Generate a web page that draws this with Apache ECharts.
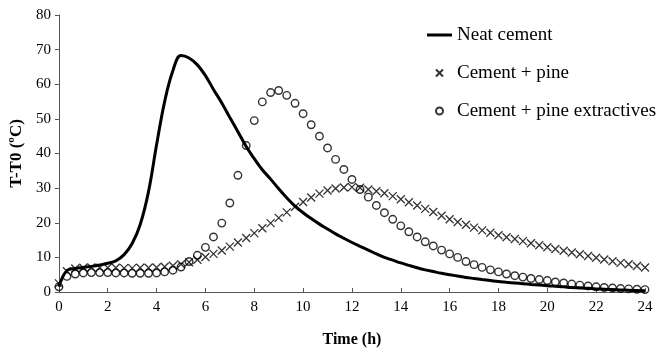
<!DOCTYPE html>
<html><head><meta charset="utf-8">
<script src="https://cdn.jsdelivr.net/npm/echarts@6/dist/echarts.min.js"></script>
<style>html,body{margin:0;padding:0;background:#fff}#c{width:659px;height:353px}</style>
</head><body><div id="c"></div>
<script>
const timeH = [0,0.33,0.67,1,1.33,1.67,2,2.33,2.67,3,3.33,3.67,4,4.33,4.67,5,5.33,5.67,6,6.33,6.67,7,7.33,7.67,8,8.33,8.67,9,9.33,9.67,10,10.33,10.67,11,11.33,11.67,12,12.33,12.67,13,13.33,13.67,14,14.33,14.67,15,15.33,15.67,16,16.33,16.67,17,17.33,17.67,18,18.33,18.67,19,19.33,19.67,20,20.33,20.67,21,21.33,21.67,22,22.33,22.67,23,23.33,23.67,24];
const neatCement = [1.5,6.2,6.8,7.1,7.4,7.8,8.3,9.0,10.8,14.0,19.5,29,42.5,55,64,68.3,67.6,65.6,62.5,58.5,54.6,50.4,46.3,42.0,38.5,35.3,32.6,29.8,27.2,24.8,22.9,21.2,19.6,18.2,16.8,15.5,14.3,13.2,12.1,11.0,10.0,9.2,8.4,7.7,7.0,6.4,5.9,5.4,5.0,4.6,4.2,3.9,3.6,3.3,3.0,2.8,2.6,2.4,2.2,2.0,1.8,1.65,1.5,1.3,1.2,1.05,0.9,0.8,0.7,0.6,0.5,0.4,0.35];
const cementPine = [2.5,6.0,6.8,7.0,7.1,7.0,7.0,7.0,6.9,6.9,7.0,7.0,7.1,7.3,7.6,8.0,8.6,9.3,10.1,11.0,12.0,13.1,14.3,15.6,17.0,18.4,19.9,21.4,23.0,24.6,26.0,27.3,28.4,29.3,29.9,30.2,30.3,30.1,29.6,29.1,28.5,27.7,26.8,25.9,25.0,24.0,23.1,22.0,21.0,20.2,19.4,18.6,17.8,17.1,16.4,15.8,15.3,14.7,14.1,13.5,12.9,12.4,11.9,11.4,10.9,10.4,9.9,9.4,8.9,8.4,8.0,7.5,7.1];
const cementPineExtractives = [1.5,4.5,5.2,5.5,5.6,5.6,5.6,5.5,5.5,5.4,5.4,5.4,5.5,5.8,6.3,7.2,8.8,10.6,12.9,15.9,19.9,25.7,33.7,42.3,49.5,54.9,57.6,58.2,56.8,54.5,51.5,48.3,45.0,41.6,38.3,35.4,32.5,29.6,27.4,25.0,22.9,21.0,19.1,17.4,15.9,14.5,13.3,12.1,11.0,10.0,8.8,7.9,7.1,6.4,5.8,5.2,4.7,4.3,3.9,3.6,3.3,2.9,2.6,2.3,2.0,1.75,1.5,1.3,1.15,1.0,0.9,0.8,0.7];
const seriesNames = ['Neat cement','Cement + pine','Cement + pine extractives'];
const xTitle = 'Time (h)';
const yTitle = 'T-T0 (ºC)';

const pair = arr => timeH.map((t,i)=>[t,arr[i]]);
const FONT = "'Liberation Serif','Times New Roman',serif";
const chart = echarts.init(document.getElementById('c'), null, {renderer:'canvas'});
chart.setOption({
  backgroundColor:'#fff',
  animation:false,
  textStyle:{fontFamily:FONT,color:'#000'},
  grid:{left:52,right:14,top:15,bottom:60},
  legend:{
    orient:'vertical', left:422, top:20,
    itemWidth:25, itemHeight:7, itemGap:18,
    textStyle:{fontFamily:FONT,fontSize:19,color:'#000',lineHeight:20},
    data:[
      {name:seriesNames[0], icon:'path://M0,0H25V3H0Z', itemStyle:{color:'#000'}},
      {name:seriesNames[1]},
      {name:seriesNames[2]}
    ]
  },
  xAxis:{
    type:'value', min:0, max:24, interval:2,
    name:xTitle, nameLocation:'middle', nameGap:40,
    nameTextStyle:{fontFamily:FONT,fontWeight:'bold',fontSize:16,color:'#000'},
    axisLine:{lineStyle:{color:'#555',width:1}},
    axisTick:{inside:true,length:4,lineStyle:{color:'#555'}},
    axisLabel:{fontFamily:FONT,fontSize:15,color:'#000',margin:8},
    splitLine:{show:false}
  },
  yAxis:{
    type:'value', min:0, max:80, interval:10,
    name:yTitle, nameLocation:'middle', nameGap:33, nameRotate:90,
    nameTextStyle:{fontFamily:FONT,fontWeight:'bold',fontSize:17,color:'#000'},
    axisLine:{show:true,lineStyle:{color:'#555',width:1}},
    axisTick:{show:true,length:4,lineStyle:{color:'#555'}},
    axisLabel:{fontFamily:FONT,fontSize:15,color:'#000',margin:8},
    splitLine:{show:false}
  },
  series:[
    {name:seriesNames[0], type:'line', data:pair(neatCement), smooth:0.4, symbol:'none', showSymbol:false,
     lineStyle:{color:'#000',width:3}, itemStyle:{color:'#000'}, z:3},
    {name:seriesNames[1], type:'scatter', data:pair(cementPine),
     symbol:'path://M0,0L10,10M10,0L0,10', symbolSize:8,
     itemStyle:{color:'transparent',borderColor:'#000',borderWidth:1.3}, z:2},
    {name:seriesNames[2], type:'scatter', data:pair(cementPineExtractives),
     symbol:'circle', symbolSize:7.5,
     itemStyle:{color:'transparent',borderColor:'#000',borderWidth:1.4}, z:2}
  ]
});
</script></body></html>
